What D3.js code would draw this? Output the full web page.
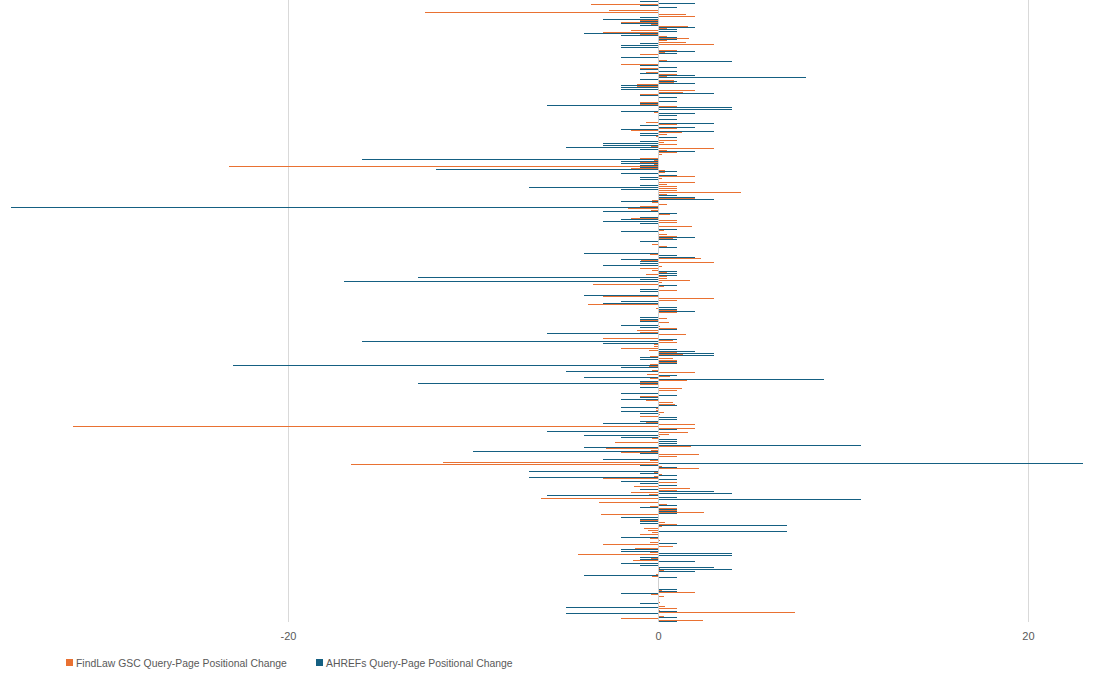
<!DOCTYPE html>
<html><head><meta charset="utf-8">
<script src="https://cdn.jsdelivr.net/npm/d3@7"></script>
<style>
html,body{margin:0;padding:0;background:#fff;}
svg{display:block;font-family:"Liberation Sans",Arial,sans-serif;}
</style></head>
<body><svg id="chart" width="1098" height="678"></svg>
<script>
// FindLaw GSC Query-Page Positional Change (orange), top-to-bottom order
const gscValues = [
0,0,-3.6,0,0,-2.65,-12.6,1.5,2,0,
-1,-2,-0.4,1.6,0.5,-1.45,-3,-1,0.5,1.7,
0.5,1.5,3,0,0,1,0.4,-1,0,0,
0.5,0,-2,0,-1,0,-0.65,1,0.5,0,
0.85,0.85,-1.15,-1.15,0,2,1.35,-1,0,0,
0,-1,-1,1,0,0,-0.2,0,0,0,
0,-0.65,1,0,1,-1.45,1.3,0.5,-0.1,0,
1,0.3,1,-0.4,3,0.5,1,0.2,0,-1,
-0.2,-1,-0.2,-23.2,-1.45,0.4,0.4,0,2,0.2,
0,2,0.5,1,1,1,4.5,0.5,0,2,
-0.35,-0.3,0.5,-1,-1.6,-0.4,0,0.65,0,-1.45,
1,1,0,1.85,0,0.3,0,0.5,1,0.8,
0,0,-0.35,0.5,0,0,0,-0.45,0,2.3,
-0.9,3,0,0.2,-1,-0.3,0.5,-0.65,0.5,0.5,
1.75,0.2,-3.5,0.3,0,1,0,0,-3,3,
1,0,-3.8,0,-0.1,1,1,0,0,0.5,
-1,0.6,0,0.1,1,-1.15,-1,1.5,0,-3,
0.8,1,-0.2,-0.2,-2,-0.5,1,1.35,-0.45,0.8,
1,1,-0.45,-0.5,0,-0.3,2,-0.6,0.65,-0.45,
1.55,-1,-1,0,1.3,1,0,0,-1,0,
-0.65,0.8,0.9,0,-0.1,-0.1,0.3,0.1,-1,0,
0,-0.65,2,-31.6,2,0,1.6,0.6,0.1,-0.35,
0,-2.3,0,1.8,-2.8,-0.4,-2,2.2,1,0,
-0.45,-11.6,-16.6,0.2,2.2,0,-0.2,0.2,-0.2,-3,
0,1,0,-1.3,1.75,1,-1.45,-0.5,0,-6.3,
0,-3.2,0.5,-0.45,1,1,2.5,-3.1,0,0,
-1,0.4,1,0.2,-0.75,-0.55,-0.3,-1,0,-0.45,
0.1,-0.45,-3,0.8,-1.25,0,-0.45,-4.3,0,-0.4,
-1.35,0,0,0,0.1,0.3,0,-0.1,-0.3,0,
0,0,0,0,0,0.2,2,-0.4,0.3,0,
0,0.1,0,0.4,1,0.1,7.4,0,0.3,-2,
2.45
];
// AHREFs Query-Page Positional Change (blue)
const ahrefsValues = [
-1,2,-1,1,0,0,0,0,-1,-3,
-1,-2,-1,2,1,1,-4,-2,1,1,
0,-1,-2,-2,0,2,1,0,-2,0,
4,0,-1,1,-1,1,-1,2,8,-1,
1,2,-2,-2,-2,0,3,-1,1,0,
1,-1,-6,4,4,-2,2,1,0,1,
0,3,-1,2,-2,3,-1,-1,1,0,
-1,-3,-3,-5,-1,2,0,0,0,-16,
-2,-2,-1,-1,-12,1,-2,1,-1,-1,
0,0,-1,-7,-2,0,0,1,2,3,
-2,0,0,-35,0,-3,1,0,-1,-2,
-3,-1,0,0,1,-2,0,0,2,1,
-1,0,0,1,0,0,-4,1,2,-2,
-1,-1,-3,0,0,1,1,1,-13,-1,
-17,0,1,0,-1,-1,0,-4,0,0,
-2,-3,0,1,1,2,0,0,-1,-1,
-1,0,-2,-1,1,0,-6,0,0,1,
-16,-3,0,0,1,2,3,3,-1,-1,
1,1,-23,-2,0,-5,0,1,-4,9,
-1,-13,0,-1,0,0,-2,1,-1,-2,
0,0,1,-2,0,-2,-1,0,1,1,
-1,-3,0,0,1,-6,0,-4,-2,1,
1,1,11,-4,0,-10,-1,0,0,-3,
0,23,-1,1,0,-7,-1,1,-7,1,
-2,-1,1,0,-1,3,4,-6,1,11,
0,0,1,-1,1,1,1,0,-2,-1,
-1,-1,7,0,0,7,0,0,-2,0,
0,1,0,0,-2,-2,4,4,-1,-1,
2,-2,-1,3,4,2,0,-4,1,0,
0,0,0,0,1,1,-2,0,0,0,
0,-1,0,-5,0,1,-5,0,1,0,
1
];
const categories = gscValues.map((d, i) => "Query-Page " + (i + 1));
const seriesNames = ["FindLaw GSC Query-Page Positional Change", "AHREFs Query-Page Positional Change"];
const seriesKeys = ["gsc", "ahrefs"];
const seriesColors = ["#E97132", "#156082"];
const xTicks = [-20, 0, 20];
const gridTicks = [-20, 20];

const svg = d3.select("#chart");
const W = 1098, plotTop = 0, plotBottom = 622;
const x = d3.scaleLinear().domain([-35.568, 23.784]).range([0, W]);
const y = d3.scaleBand().domain(categories).range([plotTop, plotBottom]).paddingInner(0).paddingOuter(0);
const sub = d3.scaleBand().domain(seriesKeys).range([0, y.bandwidth()]).padding(0);

// gridlines
svg.append("g").attr("transform", `translate(0,${plotBottom})`)
  .call(d3.axisBottom(x).tickValues(gridTicks).tickSize(-(plotBottom - plotTop)).tickFormat(""))
  .call(g => g.select(".domain").remove())
  .call(g => g.selectAll("line").attr("stroke", "#d9d9d9").attr("shape-rendering", "crispEdges"));

const rows = categories.map((c, i) => ({cat: c, gsc: gscValues[i], ahrefs: ahrefsValues[i]}));
seriesKeys.forEach((k, si) => {
  svg.append("g").attr("fill", seriesColors[si]).attr("shape-rendering", "crispEdges")
    .selectAll("rect").data(rows.filter(r => r[k] !== 0)).join("rect")
    .attr("x", d => x(Math.min(0, d[k])))
    .attr("width", d => Math.abs(x(d[k]) - x(0)))
    .attr("y", d => Math.round(y(d.cat) + sub(k)))
    .attr("height", 1);
});

// category axis line at zero
svg.append("line").attr("x1", x(0)).attr("x2", x(0)).attr("y1", plotTop).attr("y2", plotBottom)
  .attr("stroke", "#d0d0d0").attr("shape-rendering", "crispEdges");

// tick labels
svg.append("g").attr("transform", `translate(0,${plotBottom})`)
  .call(d3.axisBottom(x).tickValues(xTicks).tickSize(0).tickPadding(10).tickFormat(d => String(d)))
  .call(g => g.select(".domain").remove())
  .call(g => g.selectAll("text").attr("fill", "#595959").attr("font-size", "11px")
     .attr("font-family", "'Liberation Sans', Arial, sans-serif"));

// legend
const legendX = [66, 316];
const lg = svg.append("g");
seriesKeys.forEach((k, i) => {
  lg.append("rect").attr("x", legendX[i]).attr("y", 659).attr("width", 7).attr("height", 7).attr("fill", seriesColors[i]);
  lg.append("text").attr("x", legendX[i] + 10).attr("y", 667).attr("fill", "#595959")
    .attr("font-size", "10.4px").text(seriesNames[i]);
});
</script></body></html>
